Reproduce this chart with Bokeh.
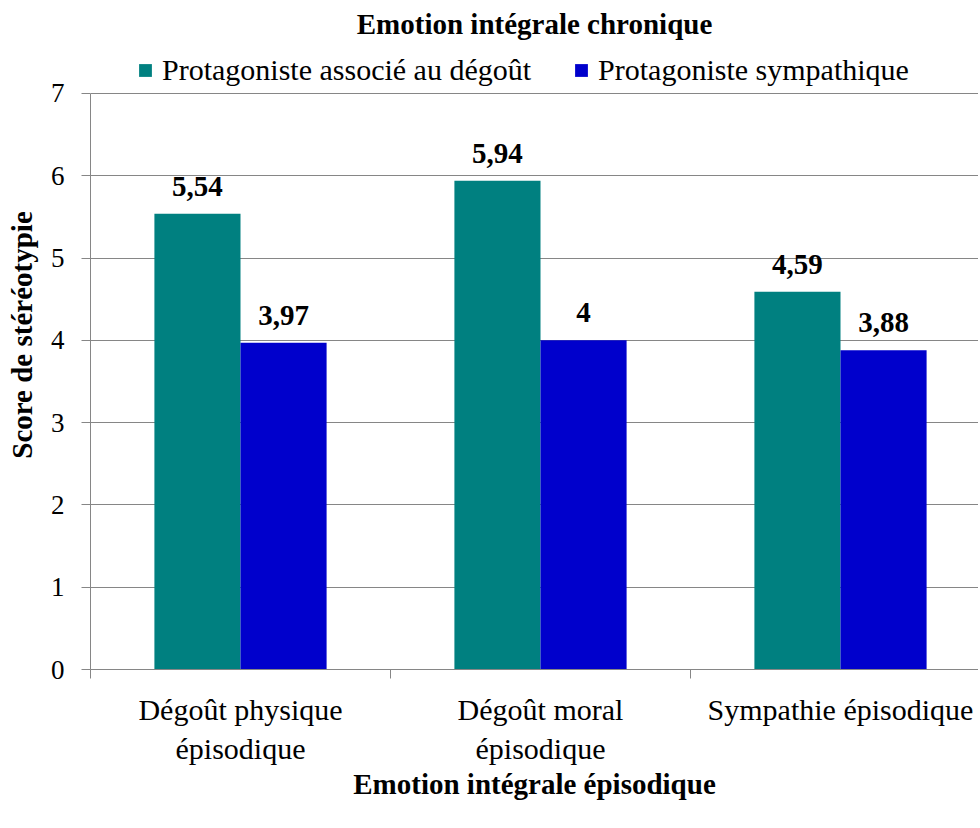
import numpy as np
from bokeh.plotting import figure
from bokeh.models import FixedTicker, Legend, LegendItem, ColumnDataSource, Range1d, LabelSet, Label
from bokeh.embed import file_html
from bokeh.resources import INLINE

title_text = "Emotion intégrale chronique"
categories = ["Dégoût physique\népisodique", "Dégoût moral\népisodique", "Sympathie épisodique"]
series_names = ["Protagoniste associé au dégoût", "Protagoniste sympathique"]
disgust_vals = [5.54, 5.94, 4.59]
sympa_vals = [3.97, 4.00, 3.88]
y_ticks = [0, 1, 2, 3, 4, 5, 6, 7]
colors = ["#008080", "#0000CC"]

FONT = "Liberation Serif"
centers = np.arange(len(categories)) + 0.5
bw = 0.287

# frame extends above the value axis to host the title and legend
p = figure(frame_width=888, frame_height=669, output_backend="svg", toolbar_location=None,
           x_range=Range1d(0, 2.96), y_range=Range1d(0, 8.13),
           min_border_left=90, min_border_right=0, min_border_top=0, min_border_bottom=0)
p.outline_line_color = None
p.background_fill_color = "white"

title = Label(x=1.48, y=7.85, text=title_text, text_align="center", text_baseline="middle",
              text_font=FONT, text_font_size="29px", text_font_style="bold", text_color="black")
p.add_layout(title)

rends = []
for vals, col, off in [(disgust_vals, colors[0], -bw / 2), (sympa_vals, colors[1], bw / 2)]:
    src = ColumnDataSource(dict(x=centers + off, top=vals,
                                lab=[f"{v:g}".replace(".", ",") for v in vals]))
    r = p.vbar(x="x", top="top", width=bw, bottom=0, source=src, fill_color=col, line_color=None)
    rends.append(r)
    lbl = LabelSet(x="x", y="top", text="lab", source=src, text_align="center", text_baseline="bottom",
                   y_offset=18, text_font=FONT, text_font_size="29px", text_font_style="bold",
                   text_color="black")
    p.add_layout(lbl)

legend = Legend(items=[LegendItem(label=series_names[i], renderers=[rends[i]]) for i in range(2)],
                orientation="horizontal", location=(47, 582), border_line_color=None,
                background_fill_alpha=0, label_text_font=FONT, label_text_font_size="30px",
                label_text_color="black",
                glyph_width=16, glyph_height=16, label_standoff=9, spacing=42, padding=0, margin=0)
p.add_layout(legend)

# axes
p.xaxis.ticker = FixedTicker(ticks=list(centers), minor_ticks=[0, 1, 2, 3])
p.xaxis.major_label_overrides = {float(c): categories[i] for i, c in enumerate(centers)}
p.xaxis.major_tick_line_color = None
p.xaxis.minor_tick_in = 0
p.xaxis.minor_tick_out = 9
p.xaxis.minor_tick_line_color = "#868686"
p.xaxis.axis_line_color = "#868686"
p.xaxis.major_label_text_font = FONT
p.xaxis.major_label_text_font_size = "30px"
p.xaxis.major_label_text_color = "black"
p.xaxis.major_label_standoff = 14
p.xaxis.axis_label = "Emotion intégrale épisodique"
p.xaxis.axis_label_text_font = FONT
p.xaxis.axis_label_text_font_size = "29px"
p.xaxis.axis_label_text_font_style = "bold"
p.xaxis.axis_label_text_color = "black"
p.xaxis.axis_label_standoff = 0

p.yaxis.ticker = FixedTicker(ticks=y_ticks)
p.yaxis.bounds = (0, 7)
p.yaxis.minor_tick_line_color = None
p.yaxis.major_tick_in = 0
p.yaxis.major_tick_out = 9
p.yaxis.major_tick_line_color = "#868686"
p.yaxis.axis_line_color = "#868686"
p.yaxis.major_label_text_font = FONT
p.yaxis.major_label_text_font_size = "27px"
p.yaxis.major_label_text_color = "black"
p.yaxis.major_label_standoff = 17
p.yaxis.axis_label = "Score de stéréotypie"
p.yaxis.axis_label_text_font = FONT
p.yaxis.axis_label_text_font_size = "29px"
p.yaxis.axis_label_text_font_style = "bold"
p.yaxis.axis_label_text_color = "black"
p.yaxis.axis_label_standoff = 10

p.xgrid.grid_line_color = None
p.ygrid.grid_line_color = "#868686"
p.ygrid.ticker = FixedTicker(ticks=y_ticks)

open("out.html", "w").write(file_html(p, INLINE))
